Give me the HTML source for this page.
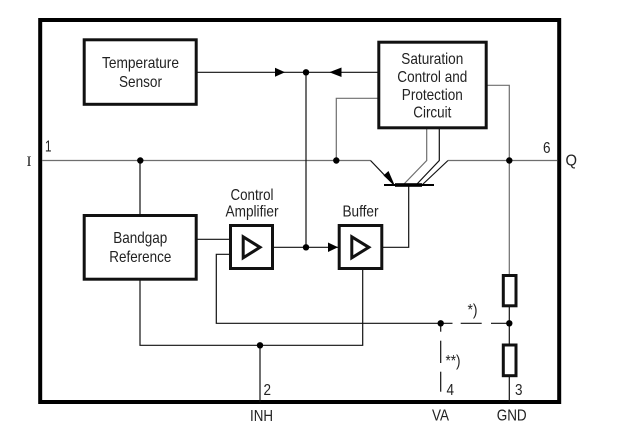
<!DOCTYPE html>
<html>
<head>
<meta charset="utf-8">
<style>
html,body{margin:0;padding:0;background:#fff;}
svg{display:block;}
text{font-family:"Liberation Sans",sans-serif;font-size:16px;fill:#222;}
.m{text-anchor:middle;}
</style>
</head>
<body>
<svg width="627" height="435" viewBox="0 0 627 435" xmlns="http://www.w3.org/2000/svg">
<rect x="0" y="0" width="627" height="435" fill="#fff"/>
<!-- frame -->
<rect x="40.2" y="20" width="519" height="382" fill="none" stroke="#000" stroke-width="4"/>
<!-- gray lines -->
<g fill="none" stroke="#6e6e6e" stroke-width="1.2">
<path d="M42 160.5H370.5"/>
<path d="M448 160.5H557"/>
<path d="M487 85.3H509.3V275"/>
<path d="M378 98.3H336.3V160.5"/>
<path d="M426.7 129V160.5L404 184"/>
</g>
<!-- black lines -->
<g fill="none" stroke="#111" stroke-width="1.2">
<path d="M370.5 160.5L394 185"/>
<path d="M439.3 129V160.5L417 184"/>
<path d="M448 160.5L422 185"/>
<path d="M197 72.3H378"/>
<path d="M306 72.3V247.3"/>
<path d="M274 247.3H338"/>
<path d="M383 247.3H408.7V185"/>
<path d="M140 160.5V214"/>
<path d="M197 239.3H229"/>
<path d="M229 254.3H216.3V323.3H452.5"/>
<path d="M460.7 323.3H481.7"/>
<path d="M491 323.3H509.3"/>
<path d="M140 280V345.3H362.7V270"/>
<path d="M260 345.3V402"/>
<path d="M440.7 323.3V331.7"/>
<path d="M440.7 340.7V363"/>
<path d="M440.7 371.7V391.7"/>
<path d="M509.3 306V344"/>
<path d="M509.3 376V402"/>
</g>
<!-- transistor -->
<rect x="384" y="184" width="50" height="2" fill="#000"/>
<rect x="395" y="183.2" width="27" height="3.6" fill="#000"/>
<path d="M395 186L383.5 175.5L388.5 171Z" fill="#000"/>
<!-- arrowheads -->
<path d="M285 72.3L275 67.8V76.8Z" fill="#000"/>
<path d="M329.3 72.3L341.5 67.5V77Z" fill="#000"/>
<path d="M338 247.3L328 242.5V252Z" fill="#000"/>
<!-- dots -->
<g fill="#000">
<circle cx="140.3" cy="160.5" r="3.2"/>
<circle cx="306" cy="72.3" r="3.2"/>
<circle cx="306" cy="247.3" r="3.2"/>
<circle cx="336.3" cy="160.5" r="3.2"/>
<circle cx="509.3" cy="160.5" r="3.2"/>
<circle cx="260" cy="345.3" r="3.2"/>
<circle cx="440.7" cy="323.3" r="3.2"/>
<circle cx="509.3" cy="323.3" r="3.2"/>
</g>
<!-- boxes -->
<g fill="#fff" stroke="#111" stroke-width="3">
<rect x="84.2" y="39.8" width="112" height="64.5"/>
<rect x="378.8" y="42.2" width="107.4" height="85.6"/>
<rect x="84.2" y="215.5" width="112" height="63.7"/>
<rect x="230.5" y="225.5" width="42" height="43"/>
<rect x="339.2" y="225.5" width="42.6" height="43"/>
<rect x="503.3" y="275.5" width="12.7" height="30.3"/>
<rect x="503.3" y="345" width="12.7" height="30.7"/>
</g>
<!-- triangles -->
<g fill="none" stroke="#111" stroke-width="3">
<path d="M243.2 236.8V257.8L260 247.3Z"/>
<path d="M351.8 236.8V257.8L368.8 247.3Z"/>
</g>
<!-- labels -->
<text class="m" x="140.5" y="68" textLength="77" lengthAdjust="spacingAndGlyphs">Temperature</text>
<text class="m" x="140.5" y="87" textLength="43" lengthAdjust="spacingAndGlyphs">Sensor</text>
<text class="m" x="432.3" y="64" textLength="62" lengthAdjust="spacingAndGlyphs">Saturation</text>
<text class="m" x="432.3" y="82" textLength="70" lengthAdjust="spacingAndGlyphs">Control and</text>
<text class="m" x="432.3" y="100" textLength="61" lengthAdjust="spacingAndGlyphs">Protection</text>
<text class="m" x="432.3" y="117.7" textLength="38" lengthAdjust="spacingAndGlyphs">Circuit</text>
<text class="m" x="140.3" y="243" textLength="54" lengthAdjust="spacingAndGlyphs">Bandgap</text>
<text class="m" x="140.3" y="262" textLength="62" lengthAdjust="spacingAndGlyphs">Reference</text>
<text class="m" x="252" y="200" textLength="43" lengthAdjust="spacingAndGlyphs">Control</text>
<text class="m" x="252" y="216.7" textLength="53" lengthAdjust="spacingAndGlyphs">Amplifier</text>
<text class="m" x="360.5" y="216.7" textLength="36" lengthAdjust="spacingAndGlyphs">Buffer</text>
<text x="45" y="151.7" textLength="6.5" lengthAdjust="spacingAndGlyphs">1</text>
<text x="543" y="153" textLength="7.5" lengthAdjust="spacingAndGlyphs">6</text>
<text x="263.5" y="395" textLength="7.5" lengthAdjust="spacingAndGlyphs">2</text>
<text x="446.5" y="395" textLength="7.5" lengthAdjust="spacingAndGlyphs">4</text>
<text x="515" y="395" textLength="7.5" lengthAdjust="spacingAndGlyphs">3</text>
<text x="26.5" y="166" style="font-family:'Liberation Serif',serif;font-size:15px;">I</text>
<text x="565.5" y="165.7" textLength="11.5" lengthAdjust="spacingAndGlyphs">Q</text>
<text x="467.5" y="315" textLength="10" lengthAdjust="spacingAndGlyphs">*)</text>
<text x="445.5" y="366" textLength="15" lengthAdjust="spacingAndGlyphs">**)</text>
<text x="250" y="421" textLength="23" lengthAdjust="spacingAndGlyphs">INH</text>
<text x="432" y="420.5" textLength="17" lengthAdjust="spacingAndGlyphs">VA</text>
<text x="496.7" y="420.5" textLength="30" lengthAdjust="spacingAndGlyphs">GND</text>
</svg>
</body>
</html>
